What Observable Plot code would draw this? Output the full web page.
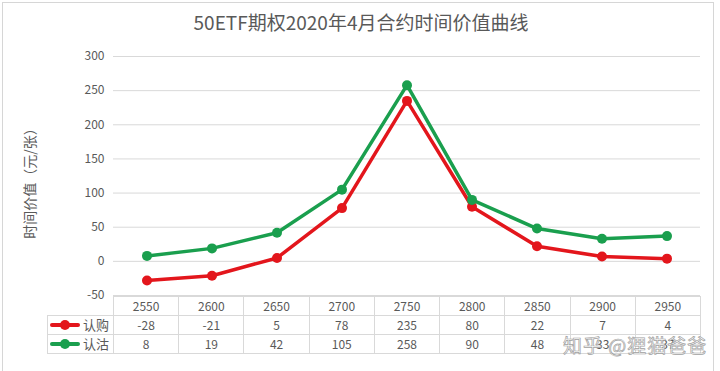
<!DOCTYPE html>
<html>
<head>
<meta charset="utf-8">
<script src="https://cdn.jsdelivr.net/npm/d3@7"></script>
<script src="https://cdn.jsdelivr.net/npm/@observablehq/plot@0.6"></script>
<style>
  html, body { margin: 0; padding: 0; background: #fff; }
  body { font-family: "Noto Sans CJK SC", "Noto Sans", sans-serif; color: #595959; }
  #wrap { position: relative; width: 720px; height: 371px; overflow: hidden; background: #fff; }
  #frame { position: absolute; left: 2px; top: 2px; width: 712px; height: 400px; border: 1px solid #d6d6d6; box-sizing: border-box; }
  #title { position: absolute; top: 8px; left: 1px; width: 720px; text-align: center; font-size: 19px; line-height: 28px; color: #595959; }
  #chart { position: absolute; top: 45px; left: 0; }
  #tbl { position: absolute; top: 296px; left: 47px; border-collapse: collapse; table-layout: fixed; font-size: 12px; color: #595959; }
  #tbl td { border: 1px solid #d9d9d9; height: 18px; padding: 0; text-align: center; line-height: 18px; }
  #tbl td.blank { border: none; border-right: 1px solid #d9d9d9; border-bottom: 1px solid #d9d9d9; }
  .leg { display: flex; align-items: center; justify-content: flex-end; padding-right: 4px; font-size: 13px; }
  .sw { position: relative; width: 30px; height: 4px; margin-right: 3px; border-radius: 2px; }
  .sw i { position: absolute; left: 10px; top: -3px; width: 10px; height: 10px; border-radius: 50%; }
  #wm { position: absolute; left: 563px; top: 331px; font-size: 19px; color: rgba(255,255,255,0.85); -webkit-text-stroke: 0.7px #a0a0a0; letter-spacing: 1px; white-space: nowrap; }
</style>
</head>
<body>
<div id="wrap">
  <div id="frame"></div>
  <div id="title"></div>
  <div id="chart"></div>
  <table id="tbl"></table>
  <div id="wm"></div>
</div>
<script>
const titleText = "50ETF期权2020年4月合约时间价值曲线";
const yLabel = "时间价值（元/张）";
const strikes = ["2550","2600","2650","2700","2750","2800","2850","2900","2950"];
const seriesNames = ["认购","认沽"];
const callValues = [-28,-21,5,78,235,80,22,7,4];
const putValues = [8,19,42,105,258,90,48,33,37];
const yTicks = [-50,0,50,100,150,200,250,300];
const seriesColors = ["#e3161c","#1a9f4e"];
const watermark = "知乎 @狸猫爸爸";

const data = [
  ...strikes.map((s, i) => ({strike: s, value: callValues[i], series: seriesNames[0]})),
  ...strikes.map((s, i) => ({strike: s, value: putValues[i], series: seriesNames[1]}))
];

document.getElementById("title").textContent = titleText;
document.getElementById("wm").textContent = watermark;

const chart = Plot.plot({
  width: 720,
  height: 256,
  marginTop: 11,
  marginBottom: 6,
  marginLeft: 113,
  marginRight: 20,
  style: {fontFamily: "'Noto Sans CJK SC', sans-serif", color: "#595959", background: "transparent"},
  x: {type: "band", domain: strikes, padding: 0, axis: null},
  y: {domain: [-50, 300], ticks: yTicks, label: null},
  color: {domain: seriesNames, range: seriesColors},
  marks: [
    Plot.gridY(yTicks, {stroke: "#d9d9d9", strokeOpacity: 1, strokeWidth: 1}),
    Plot.axisY(yTicks, {tickSize: 0, tickPadding: 9, fontSize: 12, fill: "#595959", label: null, tickFormat: d => String(d)}),
    Plot.text([yLabel], {frameAnchor: "left", textAnchor: "middle", rotate: -90, dx: -83, dy: 4, fontSize: 14, fill: "#595959"}),
    Plot.line(data, {x: "strike", y: "value", z: "series", stroke: "series", strokeWidth: 3.5, curve: "linear"}),
    Plot.dot(data, {x: "strike", y: "value", fill: "series", r: 5})
  ]
});
document.getElementById("chart").appendChild(chart);

// data table under the chart (category axis + values)
const tbl = document.getElementById("tbl");
const colW = 587 / strikes.length;
const cg = document.createElement("colgroup");
const c0 = document.createElement("col"); c0.style.width = "66px"; cg.appendChild(c0);
strikes.forEach(() => { const c = document.createElement("col"); c.style.width = colW + "px"; cg.appendChild(c); });
tbl.appendChild(cg);
const hr = document.createElement("tr");
const blank = document.createElement("td"); blank.className = "blank"; hr.appendChild(blank);
strikes.forEach(s => { const td = document.createElement("td"); td.textContent = s; hr.appendChild(td); });
tbl.appendChild(hr);
[callValues, putValues].forEach((vals, k) => {
  const tr = document.createElement("tr");
  const lg = document.createElement("td");
  const d = document.createElement("div"); d.className = "leg";
  const sw = document.createElement("span"); sw.className = "sw"; sw.style.background = seriesColors[k];
  const dot = document.createElement("i"); dot.style.background = seriesColors[k]; sw.appendChild(dot);
  const tx = document.createElement("span"); tx.textContent = seriesNames[k];
  d.appendChild(sw); d.appendChild(tx); lg.appendChild(d); tr.appendChild(lg);
  vals.forEach(v => { const td = document.createElement("td"); td.textContent = v; tr.appendChild(td); });
  tbl.appendChild(tr);
});
</script>
</body>
</html>
